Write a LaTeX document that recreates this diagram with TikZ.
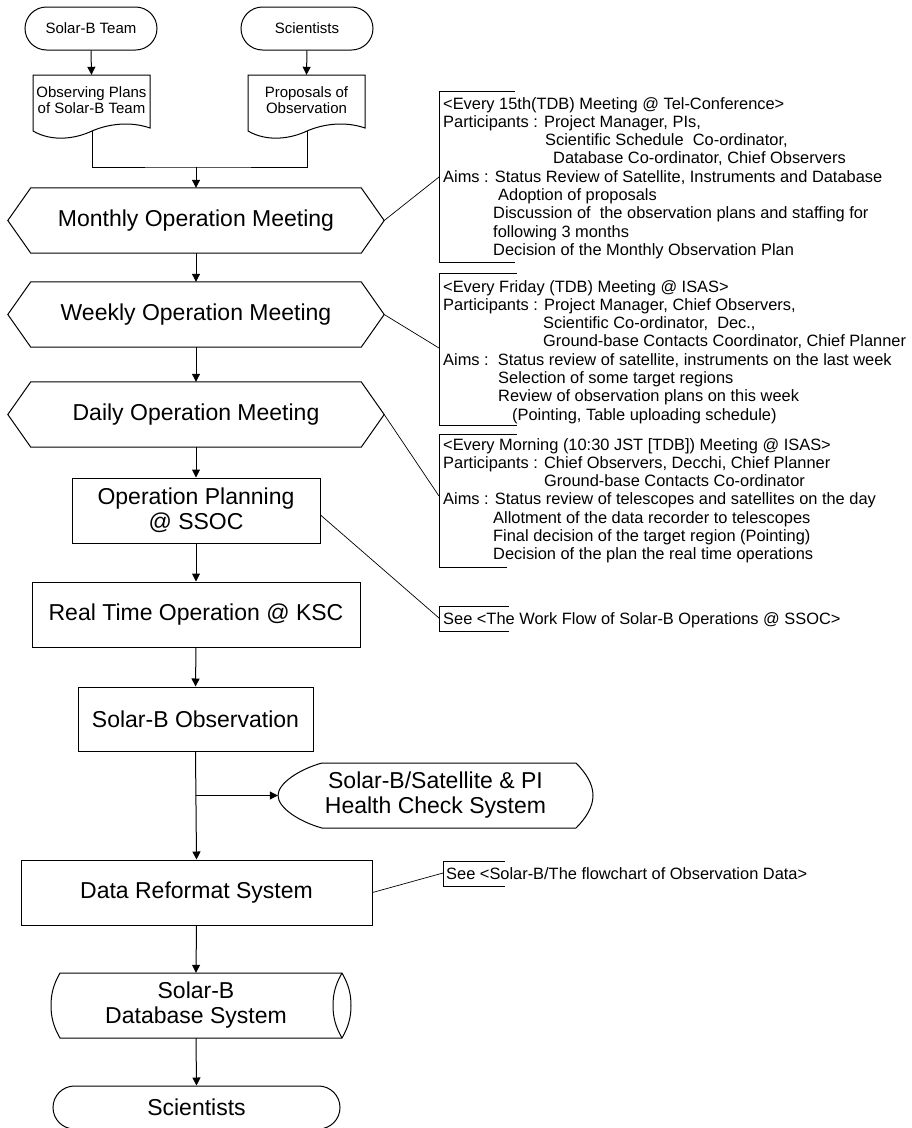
\documentclass[tikz,border=0pt]{standalone}
\usepackage{fontspec}
\setmainfont{Liberation Sans}
\usetikzlibrary{arrows.meta,shapes.misc,calc}
\newcommand\bigf{\fontsize{23}{25}\selectfont}
\newcommand\smlf{\fontsize{15}{16.7}\selectfont}
\newcommand\notef{\fontsize{16.4}{18.3}\selectfont}
\begin{document}
\begin{tikzpicture}[x=1pt,y=-1pt,
  shp/.style={draw=black,line width=1pt},
  arr/.style={draw=black,line width=1pt,-{Triangle[length=8pt,width=8pt]}},
  ln/.style={draw=black,line width=1pt},
  thin/.style={draw=black,line width=0.7pt},
  term/.style={rounded rectangle,draw=black,line width=1pt,inner sep=0pt,minimum height=43pt,font=\smlf},
  box/.style={rectangle,draw=black,line width=1pt,inner sep=0pt,minimum height=65pt,font=\bigf,align=center},
  ghost/.style={inner sep=0pt,font=\bigf,align=center},
  docn/.style={inner sep=0pt,minimum width=117pt,minimum height=50pt,font=\smlf,align=center},
  note/.style={inner sep=0pt,anchor=north west,align=left,font=\notef}
]
\useasboundingbox (0,0) rectangle (911,1128);
\clip (0,0) rectangle (911,1128);

% top terminators
\node[term,minimum width=132pt] (t1) at (91,28.5) {Solar-B Team};
\node[term,minimum width=132pt] (t2) at (307,28.5) {Scientists};

% documents
\node[docn] (d1) at (91.5,100) {Observing Plans\\of Solar-B Team};
\node[docn] (d2) at (306.5,100) {Proposals of\\Observation};
\draw[shp] (33,131) -- (33,75) -- (150,75) -- (150,128)
  .. controls (130,121) and (108,124) .. (92,131)
  .. controls (75,139) and (52,142) .. (33,131) -- cycle;
\draw[shp] (248,131) -- (248,75) -- (365,75) -- (365,128)
  .. controls (345,121) and (323,124) .. (307,131)
  .. controls (290,139) and (267,142) .. (248,131) -- cycle;
\coordinate (d1b) at (92,131);
\coordinate (d2b) at (307,131);
\coordinate (j) at (196,167);

\draw[arr] (t1.south) -- (d1.north);
\draw[arr] (t2.south) -- (d2.north);
\draw[ln] (d1b) |- (j) -| (d2b);

% hexagons
\node[ghost,minimum width=376pt,minimum height=65pt] (mon) at (196,220.5) {Monthly Operation Meeting};
\node[ghost,minimum width=376pt,minimum height=65pt] (wk) at (196,314.5) {Weekly Operation Meeting};
\node[ghost,minimum width=376pt,minimum height=65pt] (dy) at (196,414.5) {Daily Operation Meeting};
\foreach \h in {mon,wk,dy}{
  \draw[shp] (\h.west) -- ([xshift=23pt]\h.north west) -- ([xshift=-23pt]\h.north east) -- (\h.east)
    -- ([xshift=-23pt]\h.south east) -- ([xshift=23pt]\h.south west) -- cycle;
}
\draw[arr] (j) -- (mon.north);
\draw[arr] (mon.south) -- (wk.north);
\draw[arr] (wk.south) -- (dy.north);

% boxes
\node[box,minimum width=248pt] (plan) at (196,510.5) {Operation Planning\\@ SSOC};
\node[box,minimum width=328pt] (rt) at (196,614.5) {Real Time Operation @ KSC};
\node[box,minimum width=235pt,minimum height=64pt] (obs) at (195.5,719) {Solar-B Observation};
\draw[arr] (dy.south) -- (plan.north);
\draw[arr] (plan.south) -- (rt.north);
\draw[arr] (rt.south) -- (obs.north);

% health check (display shape)
\node[ghost,minimum width=315pt,minimum height=65pt] (hc) at (435.5,795.5) {Solar-B/Satellite \& PI\\Health Check System};
\draw[shp] (322,763) -- (576,763) .. controls (586,773) and (593,784) .. (593,795.5)
  .. controls (593,807) and (586,818) .. (576,828) -- (322,828)
  .. controls (300,822) and (278,808) .. (278,795.5)
  .. controls (278,783) and (300,769) .. (322,763) -- cycle;

\node[box,minimum width=351pt] (drs) at (196.5,892.5) {Data Reformat System};
\coordinate (b) at (obs.south |- hc.west);
\draw[arr] (obs.south) -- (drs.north);
\draw[arr] (b) -- (hc.west);

% database
\node[ghost,minimum width=282pt,minimum height=65pt] (db) at (196,1005.5) {Solar-B\\Database System};
\draw[shp] (60,973) -- (342,973) .. controls (349,985) and (351,995) .. (351,1005.5)
  .. controls (351,1016) and (349,1026) .. (342,1038) -- (60,1038)
  .. controls (53,1026) and (51,1016) .. (51,1005.5)
  .. controls (51,995) and (53,985) .. (60,973) -- cycle;
\draw[shp] (342,973) .. controls (335,985) and (333,995) .. (333,1005.5)
  .. controls (333,1016) and (335,1026) .. (342,1038);
\draw[arr] (drs.south) -- (db.north);

\node[term,minimum width=287pt,font=\bigf] (sc) at (196.5,1107.5) {Scientists};
\draw[arr] (db.south) -- (sc.north);

% notes
\draw[thin] (515,91) -- (439,91) -- (439,262) -- (515,262);
\node[note] (n1) at (443,97) {<Every 15th(TDB) Meeting @ Tel-Conference>\\
Participants : Project Manager, PIs,\\
\hspace*{102pt}Scientific Schedule\ \ Co-ordinator,\\
\hspace*{110pt}Database Co-ordinator, Chief Observers\\
Aims : Status Review of Satellite, Instruments and Database\\
\hspace*{55pt}Adoption of proposals\\
\hspace*{50pt}Discussion of\ \ the observation plans and staffing for\\
\hspace*{50pt}following 3 months\\
\hspace*{50pt}Decision of the Monthly Observation Plan};
\coordinate (n1c) at (439,177);
\draw[thin] (mon.east) -- (n1c);

\draw[thin] (517,273) -- (439,273) -- (439,425) -- (517,425);
\node[note] (n2) at (443,280) {<Every Friday (TDB) Meeting @ ISAS>\\
Participants : Project Manager, Chief Observers,\\
\hspace*{100pt}Scientific Co-ordinator,\ \ Dec.,\\
\hspace*{100pt}Ground-base Contacts Coordinator, Chief Planner\\
Aims :\ \ Status review of satellite, instruments on the last week\\
\hspace*{55pt}Selection of some target regions\\
\hspace*{55pt}Review of observation plans on this week\\
\hspace*{69pt}(Pointing, Table uploading schedule)};
\coordinate (n2c) at (439,348);
\draw[thin] (wk.east) -- (n2c);

\draw[thin] (517,434) -- (439,434) -- (439,567) -- (507,567);
\node[note] (n3) at (443,438) {<Every Morning (10:30 JST [TDB]) Meeting @ ISAS>\\
Participants : Chief Observers, Decchi, Chief Planner\\
\hspace*{101pt}Ground-base Contacts Co-ordinator\\
Aims : Status review of telescopes and satellites on the day\\
\hspace*{50pt}Allotment of the data recorder to telescopes\\
\hspace*{50pt}Final decision of the target region (Pointing)\\
\hspace*{50pt}Decision of the plan the real time operations};
\coordinate (n3c) at (439,496);
\draw[thin] (dy.east) -- (n3c);

\draw[thin] (509,606) -- (439,606) -- (439,631) -- (509,631);
\node[note] (n4) at (443,612) {See <The Work Flow of Solar-B Operations @ SSOC>};
\coordinate (n4c) at (439,618);
\draw[thin] ([yshift=-4.5pt]plan.east) -- (n4c);

\draw[thin] (505,861) -- (443,861) -- (443,886) -- (505,886);
\node[note] (n5) at (446,867) {See <Solar-B/The flowchart of Observation Data>};
\coordinate (n5c) at (443,873);
\draw[thin] (drs.east) -- (n5c);
\end{tikzpicture}
\end{document}
